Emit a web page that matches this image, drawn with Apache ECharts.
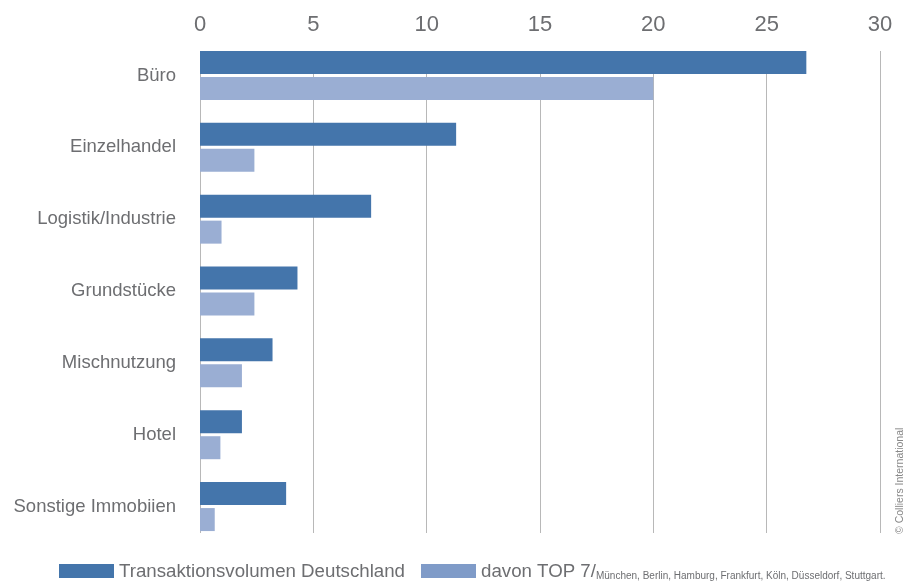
<!DOCTYPE html>
<html>
<head>
<meta charset="utf-8">
<script src="https://cdn.jsdelivr.net/npm/echarts@6/dist/echarts.min.js"></script>
<style>
  html, body { margin: 0; padding: 0; background: #fff; }
  #chart { width: 919px; height: 581px; }
</style>
</head>
<body>
<div id="chart"></div>
<script>
const categories = ['Büro', 'Einzelhandel', 'Logistik/Industrie', 'Grundstücke', 'Mischnutzung', 'Hotel', 'Sonstige Immobiien'];
const deutschland = [26.75, 11.3, 7.55, 4.3, 3.2, 1.85, 3.8];
const top7 = [20.0, 2.4, 0.95, 2.4, 1.85, 0.9, 0.65];
const xTicks = [0, 5, 10, 15, 20, 25, 30];

const textColor = '#6d6e71';
const fontFamily = '"Liberation Sans", Arial, sans-serif';

const chart = echarts.init(document.getElementById('chart'));
const option = {
  animation: false,
  textStyle: { fontFamily: fontFamily },
  grid: [
    { left: 200, right: 39, top: 39.5, bottom: 38.5 },
    // second grid only carries the vertical grid lines (shorter than the bands)
    { left: 200, right: 39, top: 51, bottom: 48 }
  ],
  legend: {
    left: 54,
    top: 557,
    itemWidth: 55,
    itemHeight: 14,
    itemGap: 16,
    icon: 'rect',
    data: [
      { name: 'Transaktionsvolumen Deutschland', itemStyle: { color: '#4475ab' } },
      { name: 'davon TOP 7', itemStyle: { color: '#7f9bc8' } }
    ],
    formatter: function (name) {
      if (name === 'davon TOP 7') {
        return '{a|davon TOP 7/}{b|München, Berlin, Hamburg, Frankfurt, Köln, Düsseldorf, Stuttgart.}';
      }
      return '{a|' + name + '}';
    },
    textStyle: {
      color: textColor,
      rich: {
        a: { fontSize: 18.7, color: textColor, fontFamily: fontFamily, verticalAlign: 'bottom', lineHeight: 20 },
        b: { fontSize: 10, color: textColor, fontFamily: fontFamily, verticalAlign: 'bottom', lineHeight: 16 }
      }
    }
  },
  xAxis: [
    {
      type: 'value',
      position: 'top',
      min: 0,
      max: 30,
      interval: 5,
      axisLine: { show: false },
      axisTick: { show: false },
      splitLine: { show: false },
      axisLabel: {
        fontSize: 22,
        color: textColor,
        margin: 4,
        formatter: function (v) { return xTicks.indexOf(v) >= 0 ? String(v) : ''; }
      }
    },
    {
      type: 'value',
      gridIndex: 1,
      min: 0,
      max: 30,
      interval: 5,
      axisLine: { show: false },
      axisTick: { show: false },
      axisLabel: { show: false },
      splitLine: { show: true, lineStyle: { color: '#b8b8b8', width: 1 } }
    }
  ],
  yAxis: [
    {
      type: 'category',
      data: categories,
      inverse: true,
      axisLine: { show: false },
      axisTick: { show: false },
      axisLabel: { fontSize: 18.5, color: textColor, margin: 24 }
    },
    {
      type: 'category',
      gridIndex: 1,
      data: categories,
      show: false
    }
  ],
  series: [
    {
      name: 'Transaktionsvolumen Deutschland',
      type: 'bar',
      data: deutschland,
      barWidth: 23,
      barGap: '13%',
      itemStyle: { color: '#4475ab' }
    },
    {
      name: 'davon TOP 7',
      type: 'bar',
      data: top7,
      barWidth: 23,
      barGap: '13%',
      itemStyle: { color: '#9aaed3' }
    }
  ],
  graphic: [
    {
      type: 'text',
      x: 895,
      y: 534,
      rotation: Math.PI / 2,
      style: {
        text: '© Colliers International',
        fontSize: 10.5,
        fill: '#888888',
        fontFamily: fontFamily
      }
    }
  ]
};
chart.setOption(option);
</script>
</body>
</html>
